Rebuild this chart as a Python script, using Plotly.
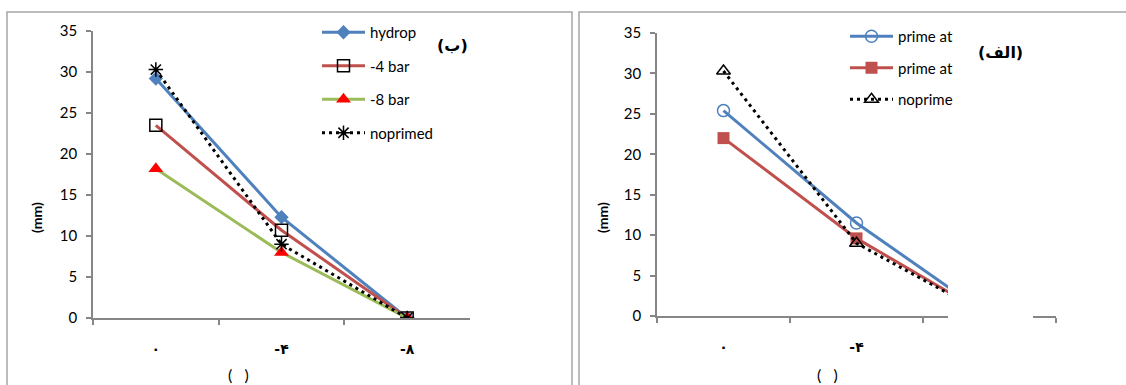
import plotly.graph_objects as go

W, H = 1126, 385


def px(x):
    return x / W


def py(y):
    return 1 - y / H


# ---------------- data ----------------
categories = ["۰", "-۴", "-۸"]

# panel (ب)
hydroprime = [29.2, 12.3, 0.0]
bar_minus4 = [23.5, 10.7, 0.0]
bar_minus8 = [18.2, 8.0, 0.0]
noprimed_b = [30.3, 9.0, 0.0]

# panel (الف)
prime_at_1 = [25.4, 11.5, 0.0]
prime_at_2 = [22.0, 9.6, 0.0]
noprimed_a = [30.3, 9.0, 0.0]

names_b = ["hydrop", "-4 bar", "-8 bar", "noprimed"]
names_a = ["prime at", "prime at", "noprime"]
y_ticks = [0, 5, 10, 15, 20, 25, 30, 35]

BLUE = "#4F81BD"
RED = "#C0504D"
GREEN = "#9BBB59"
AXIS = "#868686"
FONT = "Lato, Open Sans, DejaVu Sans, sans-serif"
AR_FONT = "DejaVu Sans, Noto Sans, sans-serif"

fig = go.Figure()

# ---- left panel (ب)
fig.add_trace(go.Scatter(x=categories, y=hydroprime, name=names_b[0], mode="lines+markers",
                         line=dict(color=BLUE, width=3),
                         marker=dict(symbol="diamond", size=11, color=BLUE),
                         xaxis="x", yaxis="y", legend="legend", legendgroup="b1"))
fig.add_trace(go.Scatter(x=categories, y=bar_minus4, name=names_b[1], mode="lines+markers",
                         line=dict(color=RED, width=3),
                         marker=dict(symbol="square-open", size=12, color="black",
                                     line=dict(width=1.5, color="black")),
                         xaxis="x", yaxis="y", legend="legend", legendgroup="b2"))
fig.add_trace(go.Scatter(x=categories, y=bar_minus8, name=names_b[2], mode="lines+markers",
                         line=dict(color=GREEN, width=3),
                         marker=dict(symbol="triangle-up", size=13, color="#FF0000"),
                         xaxis="x", yaxis="y", legend="legend", legendgroup="b3"))
fig.add_trace(go.Scatter(x=categories, y=noprimed_b, name=names_b[3], mode="lines+markers",
                         line=dict(color="black", width=3, dash="3px,4px"),
                         marker=dict(symbol="asterisk-open", size=12, color="black",
                                     line=dict(width=1.5, color="black")),
                         xaxis="x", yaxis="y", legend="legend", legendgroup="b4"))

# ---- right panel (الف)
fig.add_trace(go.Scatter(x=categories, y=prime_at_1, name=names_a[0], mode="lines+markers",
                         line=dict(color=BLUE, width=3),
                         marker=dict(symbol="circle-open", size=12, color=BLUE,
                                     line=dict(width=1.5, color=BLUE)),
                         xaxis="x2", yaxis="y2", legend="legend2", legendgroup="a1"))
fig.add_trace(go.Scatter(x=categories, y=prime_at_2, name=names_a[1], mode="lines+markers",
                         line=dict(color=RED, width=3),
                         marker=dict(symbol="square", size=12, color=RED),
                         xaxis="x2", yaxis="y2", legend="legend2", legendgroup="a2"))
fig.add_trace(go.Scatter(x=categories, y=noprimed_a, name=names_a[2], mode="lines+markers",
                         line=dict(color="black", width=3, dash="3px,4px"),
                         marker=dict(symbol="triangle-up-open", size=12, color="black",
                                     line=dict(width=1.5, color="black")),
                         xaxis="x2", yaxis="y2", legend="legend2", legendgroup="a3"))

xaxis_common = dict(type="category", range=[-0.5, 2.5], showline=True, linecolor=AXIS, linewidth=1.5,
                    ticks="outside", tickson="boundaries", ticklen=5, tickcolor=AXIS, tickwidth=1.5,
                    showgrid=False, zeroline=False, ticklabelstandoff=17,
                    tickfont=dict(family=AR_FONT, size=14, color="black", weight="bold"))
yaxis_common = dict(range=[0, 35], tickvals=y_ticks, showline=True, linecolor=AXIS, linewidth=1.5,
                    ticks="outside", ticklen=5, tickcolor=AXIS, tickwidth=1.5,
                    showgrid=False, zeroline=False, ticklabelstandoff=6,
                    tickfont=dict(family=FONT, size=15, color="black"))

fig.update_layout(
    width=W, height=H,
    margin=dict(l=0, r=0, t=0, b=0, autoexpand=False),
    paper_bgcolor="white", plot_bgcolor="white",
    xaxis=dict(domain=[px(93), px(470)], anchor="y", **xaxis_common),
    yaxis=dict(domain=[py(318), py(31)], anchor="x", **yaxis_common),
    xaxis2=dict(domain=[px(657), px(1056)], anchor="y2", **xaxis_common),
    yaxis2=dict(domain=[py(316), py(33)], anchor="x2", **yaxis_common),
    legend=dict(x=px(317), y=py(16), xanchor="left", yanchor="top", bgcolor="rgba(0,0,0,0)",
                font=dict(family=FONT, size=15, color="black"), tracegroupgap=11,
                itemwidth=43, itemclick=False),
    legend2=dict(x=px(845), y=py(20), xanchor="left", yanchor="top", bgcolor="rgba(0,0,0,0)",
                 font=dict(family=FONT, size=15, color="black"), tracegroupgap=9,
                 itemwidth=43, itemclick=False),
)

shapes = [
    # panel frames
    dict(type="rect", xref="paper", yref="paper", x0=px(7), x1=px(572), y0=py(400), y1=py(12),
         line=dict(color="#A6A6A6", width=1.5), layer="below"),
    dict(type="rect", xref="paper", yref="paper", x0=px(579), x1=px(1135), y0=py(400), y1=py(12),
         line=dict(color="#A6A6A6", width=1.5), layer="below"),
    # white legend box clipping the right panel
    dict(type="rect", xref="paper", yref="paper", x0=px(948), x1=px(1033), y0=py(362), y1=py(20),
         line=dict(width=0), fillcolor="white", layer="above"),
]
fig.update_layout(shapes=shapes)

annotations = [
    dict(text="(ب)", x=px(452), y=py(45), font=dict(family=AR_FONT, size=16, color="black", weight="bold")),
    dict(text="(الف)", x=px(1000), y=py(52), font=dict(family=AR_FONT, size=16, color="black", weight="bold")),
    dict(text="(mm)", x=px(36), y=py(218), textangle=-90,
         font=dict(family=FONT, size=14, color="black", weight="bold")),
    dict(text="(mm)", x=px(602), y=py(218), textangle=-90,
         font=dict(family=FONT, size=14, color="black", weight="bold")),
    dict(text="(   )", x=px(238), y=py(374), font=dict(family=FONT, size=16, color="black")),
    dict(text="(   )", x=px(827), y=py(374), font=dict(family=FONT, size=16, color="black")),
]
for a in annotations:
    a.update(xref="paper", yref="paper", showarrow=False, xanchor="center", yanchor="middle")
fig.update_layout(annotations=annotations)

fig.write_html("out.html",
               post_script="document.body.style.margin='0';document.body.style.overflow='hidden';")
